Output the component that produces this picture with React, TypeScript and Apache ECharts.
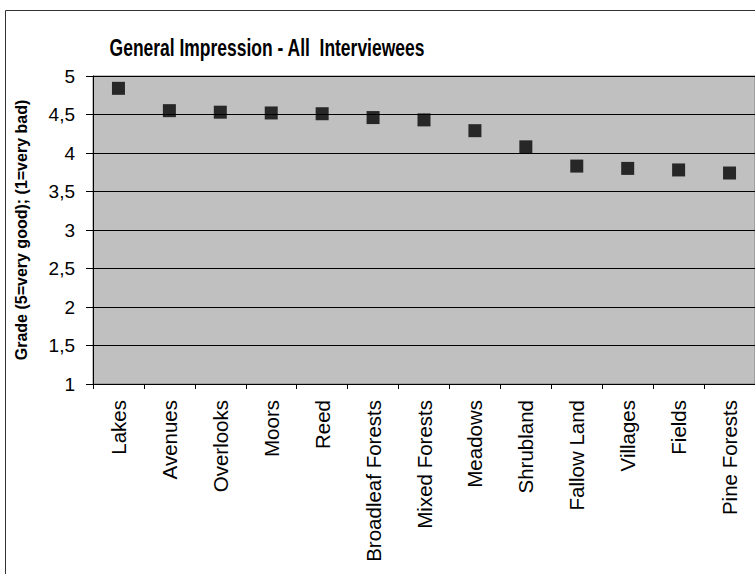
import React, { useEffect, useRef } from "react";
import * as echarts from "echarts";

const categories = [
  "Lakes", "Avenues", "Overlooks", "Moors", "Reed", "Broadleaf Forests",
  "Mixed Forests", "Meadows", "Shrubland", "Fallow Land", "Villages", "Fields", "Pine Forests",
];
const grades = [4.84, 4.55, 4.53, 4.52, 4.51, 4.46, 4.43, 4.29, 4.08, 3.83, 3.80, 3.78, 3.74];
const yTicks = ["1", "1,5", "2", "2,5", "3", "3,5", "4", "4,5", "5"];
const titleText = "General Impression - All  Interviewees";
const yAxisName = "Grade (5=very good); (1=very bad)";

export default function App() {
  const ref = useRef<HTMLDivElement>(null);
  useEffect(() => {
    if (!ref.current) return;
    const chart = echarts.init(ref.current, null, { renderer: "svg" });
    const font = "'Liberation Sans', Arial, sans-serif";
    chart.setOption({
      animation: false,
      backgroundColor: "#ffffff",
      textStyle: { fontFamily: font },
      graphic: [
        {
          type: "rect",
          shape: { x: 5.5, y: 10.5, width: 800, height: 700 },
          style: { fill: "none", stroke: "#333333", lineWidth: 1 },
          silent: true,
        },
        {
          type: "text",
          x: 267,
          y: 48,
          scaleX: 0.76,
          style: {
            text: titleText,
            fontFamily: font,
            fontSize: 23,
            fontWeight: "bold",
            fill: "#000",
            textAlign: "center",
            textVerticalAlign: "middle",
          },
        },
      ],
      grid: {
        left: 93,
        top: 76,
        right: -3,
        bottom: 190,
        show: true,
        backgroundColor: "#C0C0C0",
        borderColor: "#808080",
        borderWidth: 1,
        containLabel: false,
      },
      xAxis: {
        type: "category",
        data: categories,
        boundaryGap: true,
        axisLine: { show: true, lineStyle: { color: "#000", width: 1 } },
        axisTick: { show: true, length: 5, lineStyle: { color: "#000" } },
        axisLabel: {
          rotate: 90,
          fontSize: 20.5,
          color: "#000",
          fontFamily: font,
          margin: 16,
          interval: 0,
        },
        splitLine: { show: false },
      },
      yAxis: {
        type: "value",
        min: 1,
        max: 5,
        interval: 0.5,
        name: yAxisName,
        nameLocation: "middle",
        nameRotate: 90,
        nameGap: 64,
        nameTextStyle: { fontSize: 16, fontWeight: "bold", color: "#000", fontFamily: font },
        axisLine: { show: true, lineStyle: { color: "#000", width: 1 } },
        axisTick: { show: true, length: 7, lineStyle: { color: "#000" } },
        axisLabel: {
          fontSize: 19,
          color: "#000",
          fontFamily: font,
          margin: 18,
          formatter: (v: number) => {
            const idx = Math.round((v - 1) / 0.5);
            return yTicks[idx] ?? String(v);
          },
        },
        splitLine: { show: true, lineStyle: { color: "#000", width: 1 } },
      },
      series: [
        {
          type: "scatter",
          data: grades,
          symbol: "rect",
          symbolSize: 13,
          itemStyle: { color: "#000" },
        },
      ],
    });
    return () => chart.dispose();
  }, []);
  return (
    <div
      ref={ref}
      style={{ position: "fixed", left: 0, top: 0, width: 755, height: 574 }}
    />
  );
}
